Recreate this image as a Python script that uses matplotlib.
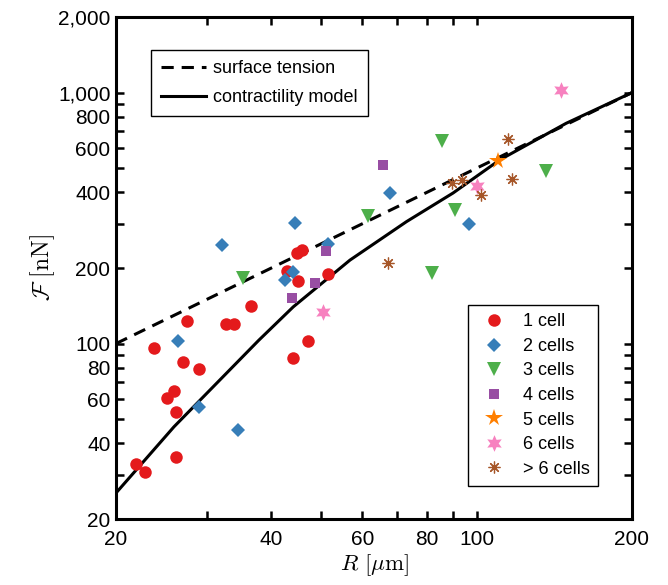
import matplotlib
matplotlib.use("Agg")
import matplotlib.pyplot as plt
from matplotlib.ticker import FixedLocator, FixedFormatter, NullLocator

plt.rcParams["font.family"] = ["Liberation Sans", "DejaVu Sans"]
plt.rcParams["mathtext.fontset"] = "cm"

# measured data, R in um and F in nN
one_R = [21.9, 22.8, 23.7, 27.5, 27.0, 29.0, 25.9, 25.1, 26.1, 26.1,
         32.6, 33.8, 36.5, 42.8, 45.0, 44.1, 47.2, 44.9, 45.8, 51.6]
one_F = [33.1, 30.7, 96.3, 123, 84.2, 79, 64.5, 60.5, 53.5, 35.2,
         120, 120, 141.5, 194, 177, 87.4, 102, 230, 236, 189]
two_R = [32.1, 26.4, 29.0, 34.5, 42.6, 44.1, 44.5, 51.6, 67.9, 96.8]
two_F = [247, 102, 56.1, 45.3, 179, 193, 302, 250, 397, 299]
three_R = [35.3, 85.8, 61.7, 90.8, 81.8, 136]
three_F = [182, 641, 323, 341, 190.5, 488]
four_R = [43.9, 48.5, 51.1, 65.9]
four_F = [152, 174, 234, 515]
five_R = [110]
five_F = [535]
six_R = [146, 100.3, 50.4]
six_F = [1024, 424, 133]
more_R = [114.8, 89.7, 93.8, 101.8, 117, 67.4]
more_F = [653, 437, 448, 391, 452, 209]

# model curves
tension_R = [20, 200]
tension_F = [100, 1000]
model_R = [20, 25.9, 37.8, 44.1, 56.8, 73.1, 90, 110.8, 149, 200]
model_F = [25.4, 46.6, 103, 140, 215, 306, 398, 539, 754, 1000]

x_ticks = [20, 30, 40, 50, 60, 70, 80, 90, 100, 200]
x_labels = ["20", "", "40", "", "60", "", "80", "", "100", "200"]
y_ticks = [20, 30, 40, 50, 60, 70, 80, 90, 100, 200, 300, 400, 500,
           600, 700, 800, 900, 1000, 2000]
y_labels = ["20", "", "40", "", "60", "", "80", "", "100", "200", "", "400",
            "", "600", "", "800", "", "1,000", "2,000"]

RED = "#E41A1C"
BLUE = "#377EB8"
GREEN = "#4DAF4A"
PURPLE = "#984EA3"
ORANGE = "#FF7F00"
PINK = "#F781BF"
BROWN = "#A65628"

fig = plt.figure(figsize=(6.68, 5.85), dpi=100)
ax = fig.add_axes([0.1737, 0.1128, 0.7724, 0.8581])

l_tension, = ax.plot(tension_R, tension_F, color="black", lw=2.2,
                     linestyle=(0, (4, 2.6)))
l_model, = ax.plot(model_R, model_F, color="black", lw=2.2)

groups = [
    (one_R, one_F, "o", RED, 9, "1 cell"),
    (two_R, two_F, "D", BLUE, 7.5, "2 cells"),
    (three_R, three_F, "v", GREEN, 10, "3 cells"),
    (four_R, four_F, "s", PURPLE, 7.5, "4 cells"),
    (five_R, five_F, "*", ORANGE, 13, "5 cells"),
    (six_R, six_F, (6, 1, 0), PINK, 12, "6 cells"),
]
handles = []
for R, F, m, c, ms, lab in groups:
    h, = ax.plot(R, F, linestyle="none", marker=m, color=c, markersize=ms,
                 markeredgewidth=0, label=lab)
    handles.append(h)
h, = ax.plot(more_R, more_F, linestyle="none", marker=(8, 2, 0), color=BROWN,
             markersize=8.5, markeredgewidth=0.9, label="> 6 cells")
handles.append(h)

ax.set_xscale("log")
ax.set_yscale("log")
ax.set_xlim(20, 200)
ax.set_ylim(20, 2000)

ax.xaxis.set_major_locator(FixedLocator(x_ticks))
ax.xaxis.set_major_formatter(FixedFormatter(x_labels))
ax.xaxis.set_minor_locator(NullLocator())
ax.yaxis.set_major_locator(FixedLocator(y_ticks))
ax.yaxis.set_major_formatter(FixedFormatter(y_labels))
ax.yaxis.set_minor_locator(NullLocator())

ax.tick_params(direction="in", length=6, width=1.8, labelsize=15,
               top=True, right=True)
ax.tick_params(axis="x", pad=8)
ax.tick_params(axis="y", pad=4)
for spine in ax.spines.values():
    spine.set_linewidth(2.2)

ax.set_xlabel(r"$R\ [\mu\mathrm{m}]$", fontsize=16.5, labelpad=2)
ax.set_ylabel(r"$\mathcal{F}\ [\mathrm{nN}]$", fontsize=17, labelpad=1)

leg1 = ax.legend([l_tension, l_model], ["surface tension", "contractility model"],
                 loc="upper left", bbox_to_anchor=(0.068, 0.934),
                 fontsize=13, frameon=True, fancybox=False, edgecolor="black",
                 framealpha=1, borderaxespad=0, handlelength=2.5,
                 handletextpad=0.4, borderpad=0.55, labelspacing=0.65)
leg1.get_frame().set_linewidth(1.0)
ax.add_artist(leg1)

leg2 = ax.legend(handles=handles, loc="lower right",
                 bbox_to_anchor=(0.934, 0.066), fontsize=13, frameon=True,
                 fancybox=False, edgecolor="black", framealpha=1,
                 borderaxespad=0, handlelength=2.0, handletextpad=0.6,
                 labelspacing=0.42, borderpad=0.45)
leg2.get_frame().set_linewidth(1.0)

fig.savefig("out.png", dpi=100)
